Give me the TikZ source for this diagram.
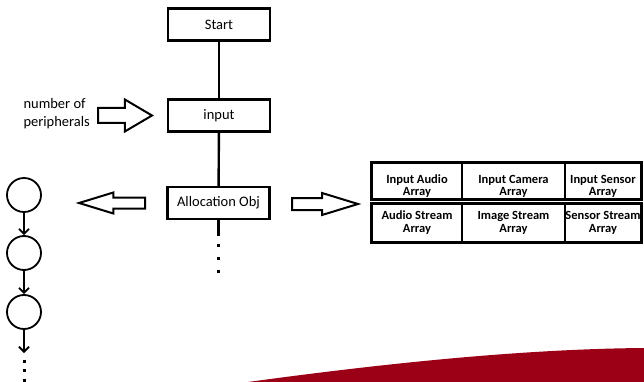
\documentclass[tikz,border=0pt]{standalone}
\usepackage{fontspec}
\setmainfont{Carlito}
\usetikzlibrary{shapes,shapes.arrows,arrows.meta,calc,positioning}

\definecolor{swooshred}{HTML}{9B0016}
\newcommand{\celllift}{\rule{0pt}{19pt}}

\begin{document}
\begin{tikzpicture}[x=1pt,y=-1pt,align=center,
  stepbox/.style={draw,line width=2.4pt,minimum width=102pt,minimum height=32pt,inner sep=0pt,
    font=\fontsize{14.5}{16}\selectfont},
  cellbox/.style={draw,line width=1.4pt,inner sep=0pt,font=\bfseries\fontsize{12.5}{11.5}\selectfont},
  ring/.style={draw,circle,line width=1.8pt,minimum size=34pt,inner sep=0pt},
  fatarrow/.style={single arrow,draw,line width=2pt,inner xsep=0pt,outer sep=0pt,anchor=tail},
  down/.style={line width=1.8pt,-{Straight Barb[length=5pt,width=10pt]}}]
  \useasboundingbox (0,0) rectangle (644,382);

  % red swoosh in the corner
  \fill[swooshred] (248,382) .. controls (380,364) and (520,349) .. (644,348) -- (644,382) -- cycle;

  \node[stepbox] (start) at (219,24.5) {Start};
  \node[stepbox] (input) at (219,115.5) {input};
  \node[stepbox] (alloc) at (218.5,203) {Allocation Obj};
  \coordinate (alloctail) at (218.5,236);

  \draw[line width=2.4pt] (start) -- (input);
  \draw[line width=2.4pt] (input) -- (alloc);
  \draw[line width=2.4pt] (alloc) -- (alloctail);
  \draw[line width=3pt,dash pattern=on 3pt off 10pt] (218.5,243.5) -- (218.5,273);

  \node[anchor=west,align=left,font=\fontsize{14.5}{18}\selectfont] (peripherals) at (20,114)
    {number of\\peripherals};
  \node[fatarrow,minimum height=54pt,inner ysep=6.5pt,single arrow head extend=8.5pt,
    single arrow tip angle=61] (numarrow) at (98,115.5) {};

  \node[fatarrow,minimum height=66pt,inner ysep=4.5pt,single arrow head extend=5pt,
    single arrow tip angle=34,shape border rotate=180] (leftarrow) at (145,203) {};
  \node[fatarrow,minimum height=66pt,inner ysep=5pt,single arrow head extend=5pt,
    single arrow tip angle=34] (rightarrow) at (292,204) {};

  % list of objects on the left
  \node[ring] (ring1) at (24,195) {};
  \node[ring] (ring2) at (24,253) {};
  \node[ring] (ring3) at (24,312) {};
  \coordinate (ringtail) at (24,353);
  \draw[down] (ring1) -- (ring2);
  \draw[down] (ring2) -- (ring3);
  \draw[down] (ring3) -- (ringtail);
  \draw[line width=3pt,dash pattern=on 3pt off 6.5pt] (24,359.5) -- (24,384);

  % arrays on the right
  \node[cellbox,minimum width=90pt,minimum height=36pt] (audioin) at (417,181) {\celllift Input Audio\\Array};
  \node[cellbox,minimum width=103pt,minimum height=36pt] (camerain) at (513.5,181) {\celllift Input Camera\\Array};
  \node[cellbox,minimum width=76pt,minimum height=36pt] (sensorin) at (603,181) {\celllift Input Sensor\\Array};
  \node[cellbox,minimum width=90pt,minimum height=38pt,font=\bfseries\fontsize{12.5}{13}\selectfont]
    (audiostream) at (417,223) {Audio Stream\\Array};
  \node[cellbox,minimum width=103pt,minimum height=38pt,font=\bfseries\fontsize{12.5}{13}\selectfont]
    (imagestream) at (513.5,223) {Image Stream\\Array};
  \node[cellbox,minimum width=76pt,minimum height=38pt,font=\bfseries\fontsize{12.5}{13}\selectfont]
    (sensorstream) at (603,223) {Sensor Stream\\Array};
  \draw[line width=2.4pt] (audioin.north west) rectangle (sensorin.south east);
  \draw[line width=2.4pt] (audiostream.north west) rectangle (sensorstream.south east);

\end{tikzpicture}
\end{document}
